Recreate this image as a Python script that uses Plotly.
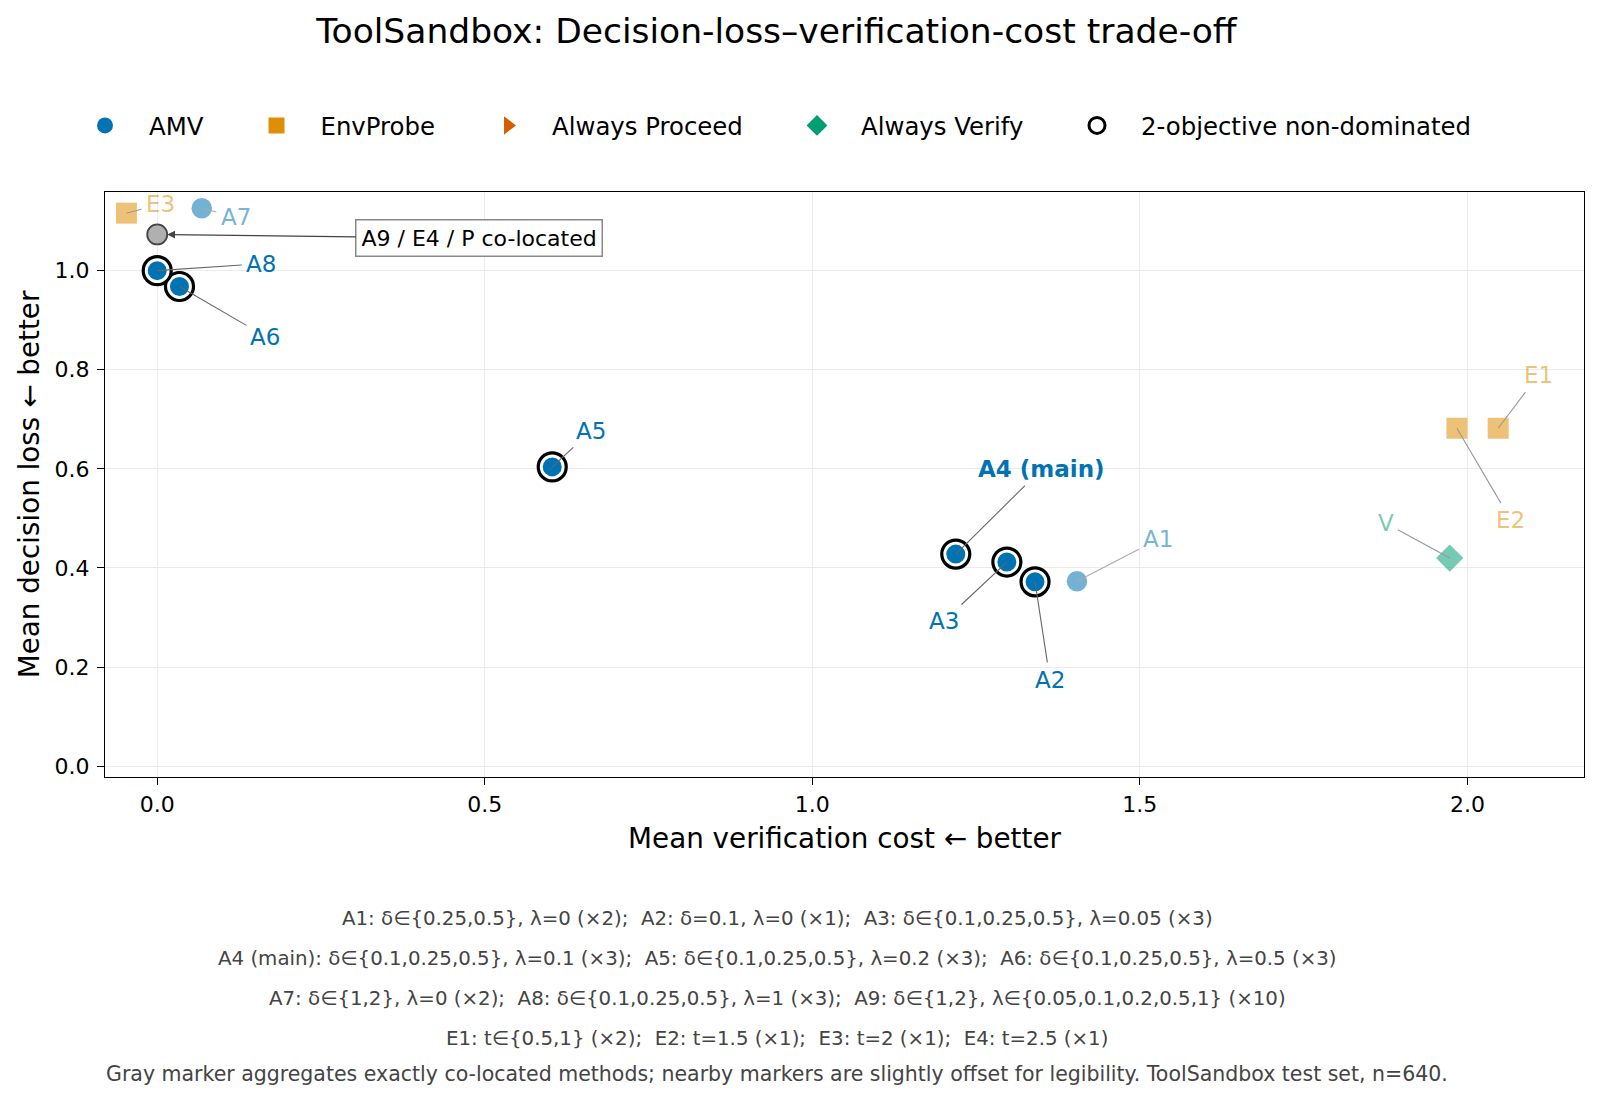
import plotly.graph_objects as go

# ---------------- data ----------------
amv_labels = ["A1", "A2", "A3", "A4 (main)", "A5", "A6", "A7", "A8"]
amv_cost = [1.404, 1.340, 1.297, 1.219, 0.603, 0.034, 0.068, 0.000]
amv_loss = [0.373, 0.372, 0.412, 0.428, 0.604, 0.968, 1.126, 1.000]
amv_nondominated = [False, True, True, True, True, True, False, True]

env_labels = ["E1", "E2", "E3"]
env_cost = [2.047, 1.984, -0.047]
env_loss = [0.682, 0.682, 1.116]

verify_labels = ["V"]
verify_cost = [1.973]
verify_loss = [0.420]

colocated_label = "A9 / E4 / P co-located"
colocated_cost = [0.000]
colocated_loss = [1.073]

legend_names = ["AMV", "EnvProbe", "Always Proceed", "Always Verify", "2-objective non-dominated"]

x_ticks = [0.0, 0.5, 1.0, 1.5, 2.0]
y_ticks = [0.0, 0.2, 0.4, 0.6, 0.8, 1.0]

footnotes = [
    "A1: δ∈{0.25,0.5}, λ=0 (×2);  A2: δ=0.1, λ=0 (×1);  A3: δ∈{0.1,0.25,0.5}, λ=0.05 (×3)",
    "A4 (main): δ∈{0.1,0.25,0.5}, λ=0.1 (×3);  A5: δ∈{0.1,0.25,0.5}, λ=0.2 (×3);  A6: δ∈{0.1,0.25,0.5}, λ=0.5 (×3)",
    "A7: δ∈{1,2}, λ=0 (×2);  A8: δ∈{0.1,0.25,0.5}, λ=1 (×3);  A9: δ∈{1,2}, λ∈{0.05,0.1,0.2,0.5,1} (×10)",
    "E1: t∈{0.5,1} (×2);  E2: t=1.5 (×1);  E3: t=2 (×1);  E4: t=2.5 (×1)",
    "Gray marker aggregates exactly co-located methods; nearby markers are slightly offset for legibility. ToolSandbox test set, n=640.",
]

# ---------------- style ----------------
FONT = "DejaVu Sans"
BLUE = "#0173B2"
ORANGE = "#DE8F05"
RED = "#D55E00"
GREEN = "#029E73"
BLUE_L = "rgba(1,115,178,0.55)"
ORANGE_L = "rgba(222,143,5,0.55)"
GREEN_L = "rgba(2,158,115,0.55)"

# label offsets (pixels) for annotations
label_offsets = {
    "A1": (81, -42), "A2": (15, 98), "A3": (-63, 59), "A4 (main)": (86, -85),
    "A5": (39, -36), "A6": (86, 50), "A7": (34, 9), "A8": (104, -7),
    "E1": (40, -53), "E2": (54, 92), "E3": (34, -9), "V": (-64, -35),
}

fig = go.Figure()

# non-dominated rings (under the markers)
nd_x = [c for c, nd in zip(amv_cost, amv_nondominated) if nd]
nd_y = [l for l, nd in zip(amv_loss, amv_nondominated) if nd]
fig.add_trace(go.Scatter(
    x=nd_x, y=nd_y, mode="markers", showlegend=False, hoverinfo="skip",
    marker=dict(symbol="circle", size=28, color="white", opacity=1,
                line=dict(color="black", width=3.2)),
))

# AMV markers
amv_colors = [BLUE if nd else BLUE_L for nd in amv_nondominated]
amv_lines = [1.5 if nd else 0 for nd in amv_nondominated]
fig.add_trace(go.Scatter(
    x=amv_cost, y=amv_loss, mode="markers", showlegend=False, text=amv_labels,
    marker=dict(symbol="circle", size=20.5, opacity=1,
                color=amv_colors, line=dict(color="white", width=amv_lines)),
))

# EnvProbe
fig.add_trace(go.Scatter(
    x=env_cost, y=env_loss, mode="markers", showlegend=False, text=env_labels,
    marker=dict(symbol="square", size=21, color=ORANGE_L, opacity=1, line=dict(width=0)),
))

# Always Verify
fig.add_trace(go.Scatter(
    x=verify_cost, y=verify_loss, mode="markers", showlegend=False, text=verify_labels,
    marker=dict(symbol="diamond", size=21, color=GREEN_L, opacity=1, line=dict(width=0)),
))

# co-located gray marker
fig.add_trace(go.Scatter(
    x=colocated_cost, y=colocated_loss, mode="markers", showlegend=False,
    text=[colocated_label],
    marker=dict(symbol="circle", size=20, color="#b0b0b0", opacity=1,
                line=dict(color="#444444", width=1.8)),
))

# legend-only proxies
legend_markers = [
    dict(symbol="circle", size=20, color=BLUE, line=dict(width=0)),
    dict(symbol="square", size=19, color=ORANGE, line=dict(width=0)),
    dict(symbol="triangle-right", size=20, color=RED, line=dict(width=0)),
    dict(symbol="diamond", size=20, color=GREEN, line=dict(width=0)),
    dict(symbol="circle", size=19, color="white", line=dict(color="black", width=3)),
]
legend_marker_px = [105, 276.5, 508, 817, 1097]
PLOT_L, PLOT_W = 105, 1479
for i, (name, mk) in enumerate(zip(legend_names, legend_markers)):
    lid = "legend" if i == 0 else f"legend{i+1}"
    fig.add_trace(go.Scatter(
        x=[None], y=[None], mode="markers", name=name, marker=mk,
        showlegend=True, legend=lid,
    ))
    fig.update_layout(**{lid: dict(
        x=(legend_marker_px[i] - 44 - PLOT_L) / PLOT_W, xanchor="left",
        y=1.1136, yanchor="middle", orientation="h", itemwidth=78,
        bgcolor="rgba(0,0,0,0)", borderwidth=0,
        font=dict(family=FONT, size=24.4, color="black"),
    )})

annotations = []

def add_label(text, x, y, color, line_color, bold=False):
    ax, ay = label_offsets[text]
    annotations.append(dict(
        x=x, y=y, xref="x", yref="y", ax=ax, ay=ay,
        text=f"<b>{text}</b>" if bold else text,
        showarrow=True, arrowhead=0, arrowwidth=1.1, arrowcolor=line_color,
        standoff=0, startstandoff=3,
        font=dict(family=FONT, size=23, color=color),
    ))

for lab, cx, cy, nd in zip(amv_labels, amv_cost, amv_loss, amv_nondominated):
    add_label(lab, cx, cy, BLUE if nd else BLUE_L, "#666666" if nd else "#aaaaaa",
              bold=(lab == "A4 (main)"))
for lab, cx, cy in zip(env_labels, env_cost, env_loss):
    add_label(lab, cx, cy, ORANGE_L, "#999999")
for lab, cx, cy in zip(verify_labels, verify_cost, verify_loss):
    add_label(lab, cx, cy, GREEN_L, "#999999")

annotations.append(dict(
    x=colocated_cost[0], y=colocated_loss[0], xref="x", yref="y", ax=322, ay=4,
    text=colocated_label, showarrow=True, arrowhead=2, arrowsize=1.2, arrowwidth=1.3,
    arrowcolor="#444444", standoff=10,
    bgcolor="white", bordercolor="#888888", borderwidth=1.5, borderpad=5,
    font=dict(family=FONT, size=22, color="black"),
))

foot_y_px = [919, 959, 999, 1039, 1075]
foot_sizes = [19.8, 19.8, 19.8, 19.8, 20.5]
PLOT_B, PLOT_H = 777.5, 585.5
for txt, ypx, fs in zip(footnotes, foot_y_px, foot_sizes):
    annotations.append(dict(
        x=(777 - PLOT_L) / PLOT_W, y=(PLOT_B - ypx) / PLOT_H, xref="paper", yref="paper",
        xanchor="center", yanchor="middle", showarrow=False, text=txt,
        font=dict(family=FONT, size=fs, color="#444444"),
    ))

fig.update_layout(
    width=1600, height=1102,
    margin=dict(l=105, r=16, t=192, b=324.5),
    paper_bgcolor="white", plot_bgcolor="white",
    font=dict(family=FONT, color="black"),
    title=dict(text="ToolSandbox: Decision-loss–verification-cost trade-off",
               x=776.5 / 1600, xanchor="center", xref="container",
               y=1 - 30.6 / 1102, yanchor="middle", yref="container",
               font=dict(family=FONT, size=34.5, color="black")),
    annotations=annotations,
)

axis_common = dict(
    showline=True, linecolor="black", linewidth=1.3, mirror=True,
    showgrid=True, gridcolor="#ebebeb", gridwidth=1,
    ticks="outside", ticklen=7, tickwidth=1.2, tickcolor="black",
    tickfont=dict(family=FONT, size=22, color="black"),
    zeroline=False,
)
fig.update_xaxes(
    range=[-0.0797, 2.178], tickvals=x_ticks, tickformat=".1f",
    title=dict(text="Mean verification cost ← better", standoff=12,
               font=dict(family=FONT, size=27.8, color="black")),
    **axis_common,
)
fig.update_yaxes(
    range=[-0.0218, 1.1587], tickvals=y_ticks, tickformat=".1f", ticklabelstandoff=3,
    title=dict(text="Mean decision loss ← better", standoff=6,
               font=dict(family=FONT, size=27.8, color="black")),
    **axis_common,
)

fig.write_html("out.html")
